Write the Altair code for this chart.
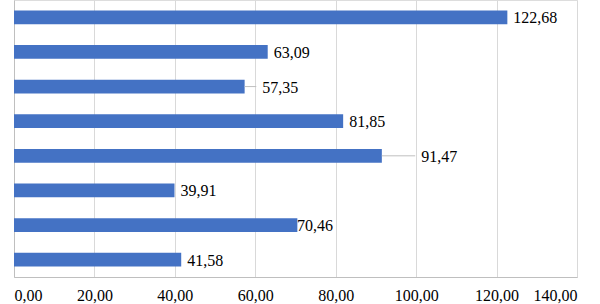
import altair as alt
import pandas as pd

categories = ["A", "B", "C", "D", "E", "F", "G", "H"]
values = [122.68, 63.09, 57.35, 81.85, 91.47, 39.91, 70.46, 41.58]
labels = ["122,68", "63,09", "57,35", "81,85", "91,47", "39,91", "70,46", "41,58"]
# extra distance (data units) a label was dragged away from its bar end
label_shift = [0, 0, 2.9, 0, 8.3, 0, -1.6, 0]

df = pd.DataFrame({
    "cat": categories,
    "value": values,
    "label": labels,
    "shift": label_shift,
})
df["label_x"] = df["value"] + df["shift"]
df["has_leader"] = df["shift"] > 0

FONT = "'Times New Roman', 'Liberation Serif', serif"
xscale = alt.Scale(domain=[0, 140], nice=False, zero=True)
yscale = alt.Scale(domain=categories, paddingInner=0.6, paddingOuter=0.3)

base = alt.Chart(df)

bars = base.mark_bar(color="#4472C4").encode(
    x=alt.X("value:Q", scale=xscale,
            axis=alt.Axis(values=[0, 20, 40, 60, 80, 100, 120, 140],
                          labelExpr="replace(format(datum.value, '.2f'), '.', ',')",
                          title=None, grid=True, gridColor="#d9d9d9",
                          domainColor="#bfbfbf", ticks=False,
                          labelFont=FONT, labelFontSize=16, labelColor="#000000",
                          labelPadding=10)),
    y=alt.Y("cat:N", scale=yscale,
            axis=alt.Axis(labels=False, ticks=False, title=None,
                          domainColor="#bfbfbf", grid=False)),
)

leaders = base.transform_filter("datum.has_leader").mark_rule(
    color="#bfbfbf", strokeWidth=1
).encode(
    x=alt.X("value:Q", scale=xscale),
    x2="label_x:Q",
    y=alt.Y("cat:N", scale=yscale, bandPosition=0.5),
)

text = base.mark_text(
    align="left", baseline="middle", dx=6, dy=1,
    font=FONT, fontSize=16, color="#000000"
).encode(
    x=alt.X("label_x:Q", scale=xscale),
    y=alt.Y("cat:N", scale=yscale),
    text="label:N",
)

chart = alt.layer(bars, leaders, text).properties(
    width=563, height=277,
    autosize=alt.AutoSizeParams(type="none"),
    padding={"left": 14, "top": 0, "right": 23, "bottom": 27},
).configure_view(stroke=None).configure(background="#ffffff")

chart.save("out.html", embed_options={"renderer": "svg", "actions": False})
